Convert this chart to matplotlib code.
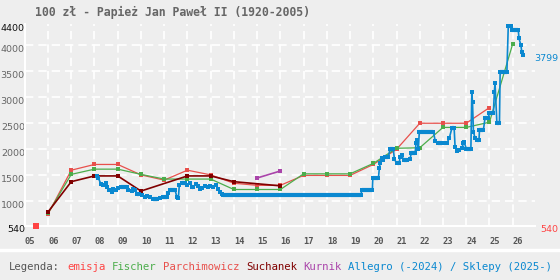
import matplotlib
matplotlib.use('Agg')
import matplotlib.pyplot as plt
from matplotlib.lines import Line2D
from matplotlib.transforms import ScaledTranslation

# data
emisja_x = [2005.5]
emisja_y = [540]

fischer_x = list(range(2006, 2027))
fischer_y = [775, 1520, 1620, 1620, 1520, 1430, 1430, 1430, 1230, 1230, 1230,
             1530, 1530, 1530, 1730, 2020, 2030, 2420, 2420, 2520, 4020]

parch_x = list(range(2006, 2026))
parch_y = [760, 1600, 1710, 1710, 1510, 1410, 1600, 1510, 1350, 1310,
           1310, 1500, 1500, 1500, 1710, 2000, 2500, 2500, 2500, 2800]

such_x = [2006, 2007, 2008, 2009, 2010, 2012, 2013, 2014, 2016]
such_y = [800, 1380, 1490, 1490, 1200, 1490, 1490, 1380, 1300]

kurnik_x = [2015, 2016]
kurnik_y = [1450, 1585]

allegro_x = [2008.10, 2008.17, 2008.28, 2008.38, 2008.48, 2008.53, 2008.64, 2008.74, 2008.81, 2008.93,
             2009.03, 2009.14, 2009.39, 2009.46, 2009.60, 2009.67, 2009.75, 2009.82, 2009.93, 2010.03,
             2010.18, 2010.25, 2010.39, 2010.53, 2010.68, 2010.82, 2010.96, 2011.11, 2011.18, 2011.25,
             2011.47, 2011.54, 2011.61, 2011.65, 2011.76, 2011.90, 2011.97, 2012.11, 2012.19, 2012.25,
             2012.37, 2012.47, 2012.54, 2012.64, 2012.76, 2012.90, 2012.97, 2013.12, 2013.23, 2013.33,
             2013.40, 2013.48, 2013.55, 2019.47, 2019.50, 2019.96, 2019.98, 2020.22, 2020.26, 2020.29,
             2020.36, 2020.43, 2020.51, 2020.65, 2020.72, 2020.86, 2020.91, 2021.01, 2021.12, 2021.15,
             2021.23, 2021.30, 2021.44, 2021.58, 2021.63, 2021.80, 2021.84, 2021.90, 2021.94, 2021.98,
             2022.59, 2022.66, 2022.80, 2022.95, 2023.09, 2023.16, 2023.27, 2023.38, 2023.48, 2023.52,
             2023.59, 2023.71, 2023.81, 2023.88, 2023.92, 2024.00, 2024.20, 2024.24, 2024.27, 2024.31,
             2024.38, 2024.45, 2024.55, 2024.57, 2024.74, 2024.81, 2024.95, 2025.00, 2025.17, 2025.21,
             2025.24, 2025.32, 2025.43, 2025.46, 2025.75, 2025.81, 2025.92, 2025.96, 2026.24, 2026.27,
             2026.35, 2026.39, 2026.43]
allegro_y = [1495, 1445, 1330, 1316, 1349, 1284, 1221, 1188, 1240, 1221,
             1253, 1278, 1278, 1221, 1201, 1234, 1221, 1138, 1138, 1125,
             1092, 1111, 1092, 1042, 1042, 1073, 1092, 1092, 1157, 1221,
             1221, 1092, 1061, 1316, 1349, 1349, 1316, 1349, 1284, 1284,
             1330, 1303, 1240, 1265, 1303, 1284, 1297, 1284, 1316, 1234,
             1188, 1138, 1115, 1115, 1221, 1221, 1445, 1445, 1637, 1732,
             1828, 1796, 1859, 1859, 2001, 2001, 1809, 1732, 1732, 1859,
             1891, 1796, 1796, 1809, 1924, 1924, 2116, 2179, 2001, 2338,
             2338, 2166, 2116, 2116, 2127, 2116, 2212, 2403, 2403, 2051,
             1968, 1987, 2020, 2116, 2146, 2001, 2001, 3093, 2902, 2338,
             2212, 2179, 2179, 2371, 2371, 2607, 2607, 2691, 2691, 3105,
             3266, 2499, 2499, 3488, 3488, 4370, 4370, 4288, 4288, 4129,
             4000, 3872, 3799]

years = list(range(2005, 2027))
year_labels = ['%02d' % (y % 100) for y in years]
y_ticks = [540, 1000, 1500, 2000, 2500, 3000, 3500, 4000, 4400]

c_emisja = '#ff4444'
c_fischer = '#4cad4c'
c_parch = '#e8504c'
c_such = '#800000'
c_kurnik = '#aa44aa'
c_allegro = '#0a88d0'
bg = '#eeeeee'

W, H = 560, 280
fig = plt.figure(figsize=(5.6, 2.8), dpi=100, facecolor=bg)
ax = fig.add_axes([24.8 / W, 1 - 225.5 / H, 510.2 / W, 201.4 / H], facecolor=bg)
ax.set_xlim(2005, 2026.96)
ax.set_ylim(540, 4400)

# grid
for v in range(1000, 4001, 500):
    ax.axhline(v, color='white', lw=1.2, ls=(0, (5, 3)), zorder=0)
for y in years[1:]:
    ax.axvline(y, color='white', lw=1.2, ls=(0, (5, 3)), zorder=0)
for s in ['top', 'right']:
    ax.spines[s].set_visible(False)
for s in ['left', 'bottom']:
    ax.spines[s].set_color('white')
    ax.spines[s].set_linewidth(1.5)

# series
ax.plot(parch_x, parch_y, color=c_parch, lw=0.9, marker='s', ms=3, mew=0, zorder=2)
ax.plot(fischer_x, fischer_y, color=c_fischer, lw=0.9, marker='s', ms=3, mew=0, zorder=2)
ax.plot(such_x, such_y, color=c_such, lw=1.2, marker='s', ms=3.2, mew=0, zorder=3)
ax.plot(kurnik_x, kurnik_y, color=c_kurnik, lw=1.2, marker='s', ms=3.2, mew=0, zorder=3)
ax.plot(allegro_x, allegro_y, color=c_allegro, lw=1.2, marker='s', ms=3, mew=0, zorder=4)
for i in range(len(allegro_x) - 1):
    if allegro_y[i] == allegro_y[i + 1]:
        ax.plot(allegro_x[i:i + 2], allegro_y[i:i + 2], color=c_allegro, lw=3, zorder=4,
                solid_capstyle='butt')
ax.plot(emisja_x, emisja_y, color=c_emisja, ls='none', marker='s', ms=4, mew=0, zorder=5, clip_on=False)

# ticks
ax.set_xticks(years)
ax.set_xticklabels(year_labels, ha='left', fontfamily='DejaVu Sans Mono',
                   fontweight='bold', fontsize=6.3, color='#555555')
ax.set_yticks(y_ticks)
ax.set_yticklabels([str(v) for v in y_ticks], fontsize=6.8, color='#666666')
ax.tick_params(axis='x', length=0, pad=8)
ax.tick_params(axis='y', length=0, pad=0)
off = ScaledTranslation(0, -3.5 / 100, fig.dpi_scale_trans)
for lab in ax.get_yticklabels():
    lab.set_transform(lab.get_transform() + off)
ax.get_yticklabels()[0].set_color('#111111')
ax.get_yticklabels()[-1].set_color('#111111')

# right-side labels
ax.text(1.0, allegro_y[-1], str(allegro_y[-1]), transform=ax.get_yaxis_transform() + ScaledTranslation(23 / 100, -3.5 / 100, fig.dpi_scale_trans),
        ha='right', va='center', fontsize=6.8, color=c_allegro)
ax.text(1.0, emisja_y[0], str(emisja_y[0]), transform=ax.get_yaxis_transform() + ScaledTranslation(23 / 100, -3.5 / 100, fig.dpi_scale_trans),
        ha='right', va='center', fontsize=6.8, color=c_emisja)

# title
fig.text(35 / W, 1 - 12.5 / H, '100 zł - Papież Jan Paweł II (1920-2005)', fontfamily='DejaVu Sans Mono',
         fontweight='bold', fontsize=8.3, color='#666666', ha='left', va='center')

# separator
fig.add_artist(Line2D([0, 1], [1 - 250 / H, 1 - 250 / H], color='white', lw=2.5, transform=fig.transFigure))

# legend line
fs = 7.65
cw = 0.6021 * fs * 100 / 72
pieces = [('Legenda:', '#555555'), ('emisja', c_emisja), ('Fischer', c_fischer),
          ('Parchimowicz', c_parch), ('Suchanek', c_such), ('Kurnik', c_kurnik),
          ('Allegro (-2024) / Sklepy (2025-)', c_allegro)]
pos = 0
for txt, col in pieces:
    fig.text((9.3 + pos * cw) / W, 1 - 267 / H, txt, fontfamily='DejaVu Sans Mono',
             fontsize=fs, color=col, ha='left', va='center')
    pos += len(txt) + 1

fig.savefig('out.png', dpi=100, facecolor=bg)
